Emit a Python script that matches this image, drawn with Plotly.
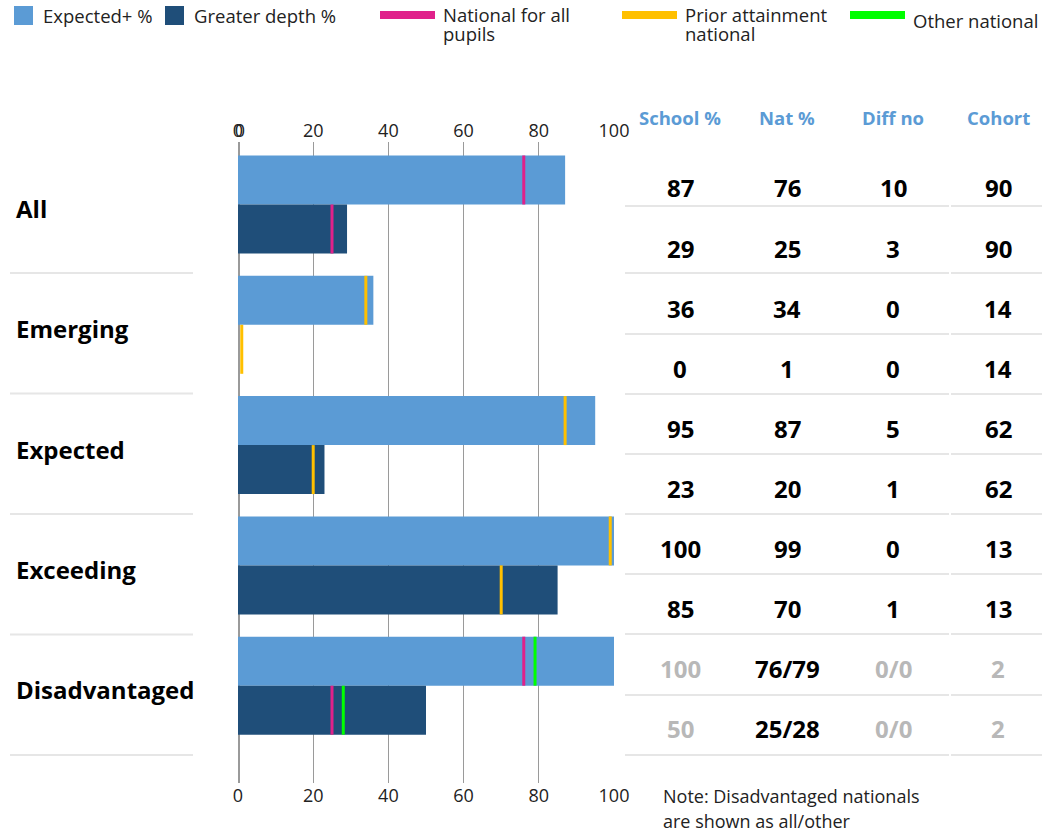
import plotly.graph_objects as go

# ---------------- data ----------------
categories = ["All", "Emerging", "Expected", "Exceeding", "Disadvantaged"]
expected_pct = [87, 36, 95, 100, 100]
greater_depth_pct = [29, 0, 23, 85, 50]

# national reference markers (None = not shown)
nat_all_exp = [76, None, None, None, 76]
nat_all_gd = [25, None, None, None, 25]
prior_exp = [None, 34, 87, 99, None]
prior_gd = [None, 1, 20, 70, None]
other_exp = [None, None, None, None, 79]
other_gd = [None, None, None, None, 28]

table_headers = ["School %", "Nat %", "Diff no", "Cohort"]
school_col = ["87", "29", "36", "0", "95", "23", "100", "85", "100", "50"]
nat_col = ["76", "25", "34", "1", "87", "20", "99", "70", "76/79", "25/28"]
diff_col = ["10", "3", "0", "0", "5", "1", "0", "1", "0/0", "0/0"]
cohort_col = ["90", "90", "14", "14", "62", "62", "13", "13", "2", "2"]
greyed_rows = [False] * 8 + [True, True]

x_ticks = [0, 20, 40, 60, 80, 100]
note_lines = ["Note: Disadvantaged nationals", "are shown as all/other"]

# ---------------- style ----------------
C_EXP = "#5b9bd5"
C_GD = "#1f4e79"
C_NAT = "#e0218a"
C_PRIOR = "#ffc000"
C_OTHER = "#00ff00"
C_GRID = "#9a9a9a"
C_SEP = "#e6e6e6"
C_GREY = "#b8b8b8"
FONT = "Open Sans"

W, H = 1042, 832
PL, PR, PT, PB = 238, 614, 142, 783  # plot area in pixels
MARK_W = 0.8


def px_x(p):
    return (p - PL) / (PR - PL)


def px_y(p):
    return (PB - p) / (PB - PT)


def marker_trace(vals, color, group):
    return go.Bar(
        y=categories,
        x=[MARK_W if v is not None else None for v in vals],
        base=[v - MARK_W / 2 if v is not None else None for v in vals],
        orientation="h",
        offsetgroup=group,
        marker=dict(color=color, line=dict(width=0)),
        showlegend=False,
        hoverinfo="skip",
    )


fig = go.Figure()
fig.add_trace(go.Bar(y=categories, x=expected_pct, orientation="h", name="Expected+ %",
                     offsetgroup="exp", marker=dict(color=C_EXP, line=dict(width=0)),
                     showlegend=False))
fig.add_trace(go.Bar(y=categories, x=greater_depth_pct, orientation="h", name="Greater depth %",
                     offsetgroup="gd", marker=dict(color=C_GD, line=dict(width=0)),
                     showlegend=False))
fig.add_trace(marker_trace(nat_all_exp, C_NAT, "exp"))
fig.add_trace(marker_trace(nat_all_gd, C_NAT, "gd"))
fig.add_trace(marker_trace(prior_exp, C_PRIOR, "exp"))
fig.add_trace(marker_trace(prior_gd, C_PRIOR, "gd"))
fig.add_trace(marker_trace(other_exp, C_OTHER, "exp"))
fig.add_trace(marker_trace(other_gd, C_OTHER, "gd"))
# empty traces so overlaying top axes are drawn
fig.add_trace(go.Scatter(x=[], y=[], xaxis="x2", showlegend=False))
fig.add_trace(go.Scatter(x=[], y=[], xaxis="x3", showlegend=False))

# category axis geometry: group centre of first category at 204.5px, pitch 120.3px
c0, pitch = 204.5, 120.3
y_top = (PT - c0) / pitch
y_bot = (PB - c0) / pitch

tickfont = dict(family=FONT, size=18, color="#222")
fig.update_layout(
    width=W, height=H,
    margin=dict(l=PL, r=W - PR, t=PT, b=H - PB, pad=0),
    plot_bgcolor="white", paper_bgcolor="white",
    barmode="group", bargap=1 - 98 / 120.3, bargroupgap=0,
    showlegend=False,
    font=dict(family=FONT),
    xaxis=dict(range=[0, 100], tickvals=x_ticks, showgrid=True, gridcolor=C_GRID,
               gridwidth=1, zeroline=True, zerolinecolor=C_GRID, zerolinewidth=1,
               showline=False, ticks="", tickfont=tickfont, fixedrange=True),
    xaxis2=dict(overlaying="x", side="top", matches="x", tickvals=x_ticks,
                showgrid=False, zeroline=False, showline=False, ticks="",
                tickfont=tickfont),
    xaxis3=dict(overlaying="x", side="top", range=[-0.53, 99.47], tickvals=[0],
                showgrid=True, gridcolor=C_GRID, gridwidth=1, zeroline=False,
                showline=False, ticks="", tickfont=tickfont),
    yaxis=dict(type="category", categoryorder="array", categoryarray=categories,
               range=[y_bot, y_top], showticklabels=False, showgrid=False,
               zeroline=False, showline=False, ticks=""),
)

shapes = []
annotations = []

# left category labels and separators
for i, cat in enumerate(categories):
    cy = c0 + pitch * i
    annotations.append(dict(text=f"<b>{cat}</b>", x=px_x(14), y=px_y(cy + 4),
                            xref="paper", yref="paper", xanchor="left", yanchor="middle",
                            showarrow=False, font=dict(family=FONT, size=24, color="#000")))
    sy = 273 + 120.5 * i
    shapes.append(dict(type="line", xref="paper", yref="paper",
                       x0=px_x(10), x1=px_x(193), y0=px_y(sy), y1=px_y(sy),
                       line=dict(color=C_SEP, width=2)))

# table
col_x = [680, 787, 893, 998]
for j, h in enumerate(table_headers):
    annotations.append(dict(text=f"<b>{h}</b>", x=px_x(col_x[j]), y=px_y(118),
                            xref="paper", yref="paper", xanchor="center", yanchor="middle",
                            showarrow=False, font=dict(family=FONT, size=18.5, color=C_EXP)))

columns = [school_col, nat_col, diff_col, cohort_col]
row_y = [188 + 60 * r for r in range(len(school_col))]
for r in range(len(school_col)):
    for j, col in enumerate(columns):
        grey = greyed_rows[r] and j != 1
        annotations.append(dict(text=f"<b>{col[r]}</b>", x=px_x(col_x[j]), y=px_y(row_y[r]),
                                xref="paper", yref="paper", xanchor="center", yanchor="middle",
                                showarrow=False,
                                font=dict(family=FONT, size=24, color=C_GREY if grey else "#000")))

line_y = [206, 273, 334, 394, 454, 514, 574, 634, 695, 755]
for ly in line_y:
    for (a, b) in [(625, 949), (951, 1042)]:
        shapes.append(dict(type="line", xref="paper", yref="paper",
                           x0=px_x(a), x1=px_x(b), y0=px_y(ly), y1=px_y(ly),
                           line=dict(color=C_SEP, width=2)))

# note
for k, t in enumerate(note_lines):
    annotations.append(dict(text=t, x=px_x(661), y=px_y(796 + 25 * k),
                            xref="paper", yref="paper", xanchor="left", yanchor="middle",
                            showarrow=False, font=dict(family=FONT, size=18, color="#222")))

# legend (drawn manually)
leg_font = dict(family=FONT, size=18.5, color="#222")
shapes.append(dict(type="rect", xref="paper", yref="paper", x0=px_x(14), x1=px_x(33),
                   y0=px_y(25), y1=px_y(6), fillcolor=C_EXP, line=dict(width=0)))
shapes.append(dict(type="rect", xref="paper", yref="paper", x0=px_x(165), x1=px_x(184),
                   y0=px_y(25), y1=px_y(6), fillcolor=C_GD, line=dict(width=0)))
for (x0, x1, c) in [(380, 435, C_NAT), (622, 677, C_PRIOR), (850, 905, C_OTHER)]:
    shapes.append(dict(type="rect", xref="paper", yref="paper", x0=px_x(x0), x1=px_x(x1),
                       y0=px_y(19), y1=px_y(11), fillcolor=c, line=dict(width=0)))
leg_texts = [("Expected+ %", 41, 16), ("Greater depth %", 192, 16),
             ("National for all", 441, 15), ("pupils", 441, 34),
             ("Prior attainment", 683, 15), ("national", 683, 34),
             ("Other national", 911, 20)]
for t, lx, ly in leg_texts:
    annotations.append(dict(text=t, x=px_x(lx), y=px_y(ly), xref="paper", yref="paper",
                            xanchor="left", yanchor="middle", showarrow=False, font=leg_font))

fig.update_layout(shapes=shapes, annotations=annotations)
fig.write_html("out.html", config={"displayModeBar": False},
               post_script="document.body.style.margin='0';document.body.style.overflow='hidden';")
